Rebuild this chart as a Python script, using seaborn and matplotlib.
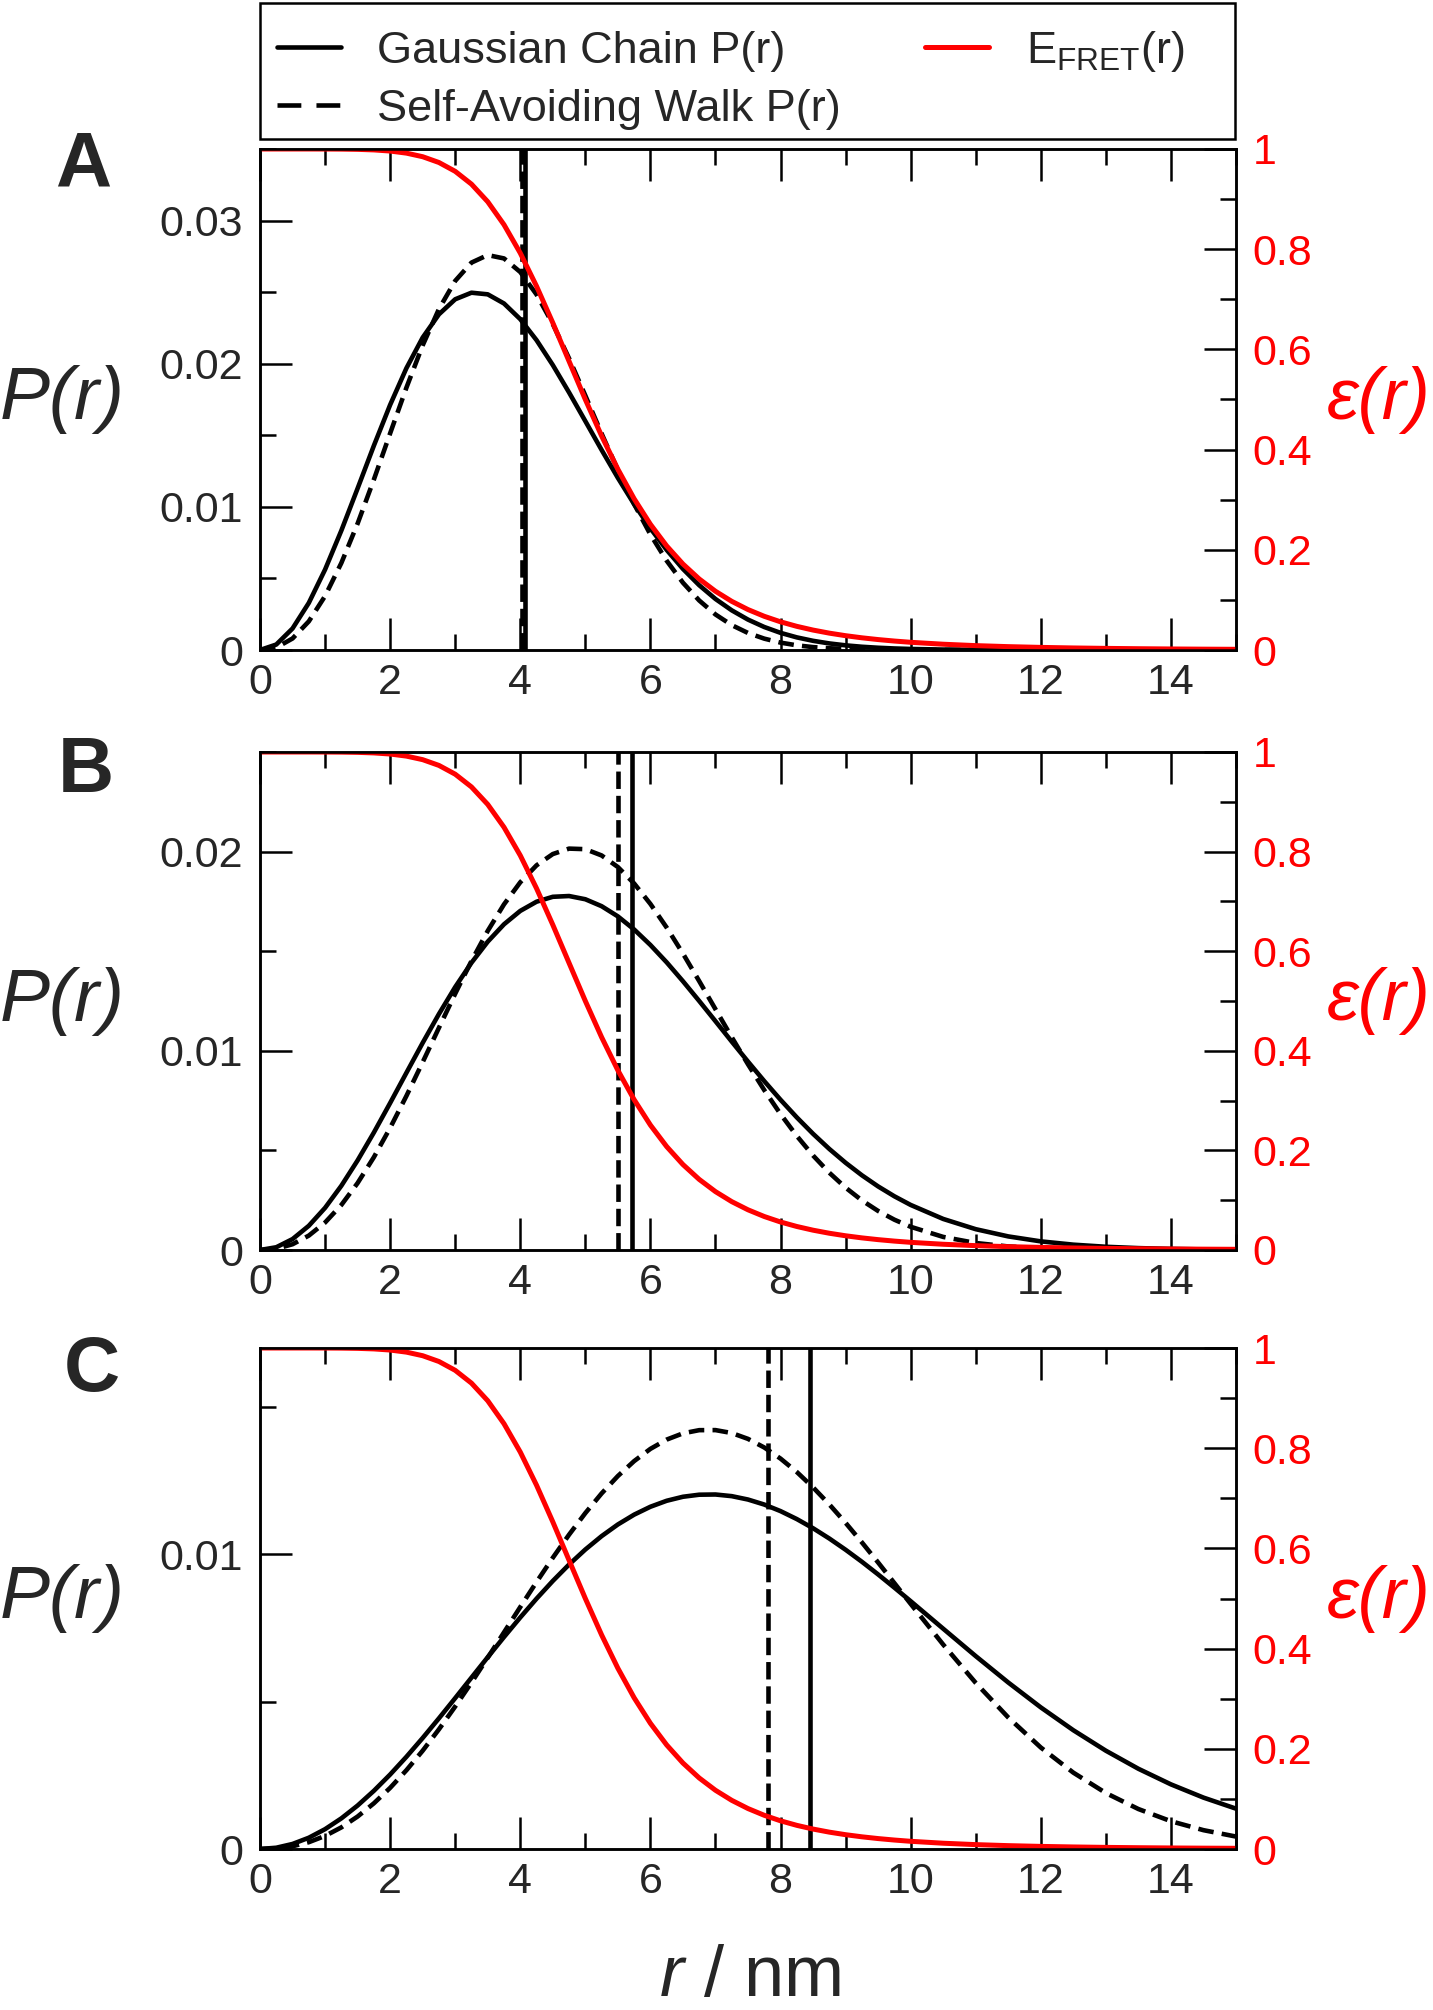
import matplotlib
matplotlib.use("Agg")
import matplotlib.pyplot as plt
import seaborn as sns
from matplotlib.ticker import MultipleLocator, FuncFormatter
from matplotlib.lines import Line2D
from matplotlib.patches import Rectangle

# ---------------- data ----------------
r_nm = [0.0, 0.25, 0.5, 0.75, 1.0, 1.25, 1.5, 1.75, 2.0, 2.25, 2.5, 2.75, 3.0, 3.25,
        3.5, 3.75, 4.0, 4.25, 4.5, 4.75, 5.0, 5.25, 5.5, 5.75, 6.0, 6.25, 6.5, 6.75,
        7.0, 7.25, 7.5, 7.75, 8.0, 8.25, 8.5, 8.75, 9.0, 9.25, 9.5, 9.75, 10.0,
        10.5, 11.0, 11.5, 12.0, 12.5, 13.0, 13.5, 14.0, 14.5, 15.0]

efret = [1.0, 1.0, 1.0, 1.0, 0.99994, 0.99976, 0.99927, 0.99817, 0.99592, 0.99176,
         0.98462, 0.97306, 0.95542, 0.92987, 0.89474, 0.84891, 0.79231, 0.72614,
         0.65298, 0.57634, 0.5, 0.42733, 0.36081, 0.30184, 0.25088, 0.20770,
         0.17162, 0.14178, 0.11724, 0.09714, 0.08071, 0.06726, 0.05625, 0.04722,
         0.03978, 0.03364, 0.02856, 0.02434, 0.02081, 0.01787, 0.01538,
         0.01153, 0.00874, 0.00671, 0.00521, 0.00408, 0.00323, 0.00257, 0.00207,
         0.00168, 0.00137]

pA_gauss = [0, 0.000382, 0.001503, 0.003288, 0.005618, 0.008342, 0.011288, 0.014275,
            0.017126, 0.019687, 0.021826, 0.023451, 0.024502, 0.024961, 0.024847,
            0.024207, 0.023112, 0.021646, 0.019907, 0.017989, 0.015988, 0.013977,
            0.012025, 0.010188, 0.008500, 0.006991, 0.005665, 0.004526, 0.003565,
            0.002771, 0.002123, 0.001606, 0.001198, 0.000882, 0.000641, 0.000459,
            0.000325, 0.000227, 0.000157, 0.000107, 0.000072,
            0.000031, 0.000013, 0.000005, 0.000002, 0.000001, 0.0, 0.0, 0.0, 0.0, 0.0]

pA_saw = [0, 0.000167, 0.000804, 0.001999, 0.003768, 0.006076, 0.008832, 0.011907,
          0.015134, 0.018325, 0.021282, 0.023821, 0.025787, 0.027064, 0.027590,
          0.027355, 0.026406, 0.024835, 0.022775, 0.020371, 0.017773, 0.015122,
          0.012571, 0.010194, 0.008070, 0.006236, 0.004702, 0.003460, 0.002483,
          0.001739, 0.001189, 0.000793, 0.000516, 0.000326, 0.000202, 0.000122,
          0.000071, 0.000041, 0.000023, 0.000012, 0.000006,
          0.000001, 0.0, 0.0, 0.0, 0.0, 0.0, 0.0, 0.0, 0.0, 0.0]

pB_gauss = [0, 0.000138, 0.000548, 0.001215, 0.002116, 0.003223, 0.004497, 0.005897,
            0.007378, 0.008894, 0.010398, 0.011847, 0.013200, 0.014421, 0.015478,
            0.016351, 0.017023, 0.017484, 0.017731, 0.017770, 0.017608, 0.017260,
            0.016748, 0.016090, 0.015312, 0.014441, 0.013493, 0.012501, 0.011486,
            0.010463, 0.009456, 0.008477, 0.007541, 0.006657, 0.005832, 0.005072,
            0.004379, 0.003752, 0.003191, 0.002696, 0.002262,
            0.001559, 0.001045, 0.000682, 0.000433, 0.000268, 0.000162, 0.000095,
            0.000054, 0.000030, 0.000017]

pB_saw = [0, 0.000060, 0.000289, 0.000723, 0.001379, 0.002260, 0.003360, 0.004658,
          0.006130, 0.007733, 0.009428, 0.011156, 0.012869, 0.014508, 0.016019,
          0.017351, 0.018460, 0.019311, 0.019877, 0.020150, 0.020122, 0.019807,
          0.019225, 0.018400, 0.017373, 0.016187, 0.014883, 0.013498, 0.012088,
          0.010683, 0.009322, 0.008026, 0.006823, 0.005726, 0.004743, 0.003878,
          0.003130, 0.002491, 0.001959, 0.001521, 0.001165,
          0.000657, 0.000351, 0.000178, 0.000085, 0.000039, 0.000017, 0.000007,
          0.000003, 0.000001, 0.0]

pC_gauss = [0, 0.000043, 0.000171, 0.000382, 0.000673, 0.001039, 0.001475, 0.001974,
            0.002527, 0.003128, 0.003767, 0.004434, 0.005120, 0.005815, 0.006509,
            0.007193, 0.007857, 0.008494, 0.009095, 0.009653, 0.010162, 0.010616,
            0.011012, 0.011345, 0.011613, 0.011816, 0.011952, 0.012022, 0.012029,
            0.011973, 0.011858, 0.011688, 0.011465, 0.011195, 0.010884, 0.010535,
            0.010154, 0.009747, 0.009316, 0.008868, 0.008409,
            0.007475, 0.006545, 0.005649, 0.004805, 0.004030, 0.003335, 0.002722,
            0.002193, 0.001744, 0.001369]

pC_saw = [0, 0.000019, 0.000092, 0.000231, 0.000444, 0.000733, 0.001102, 0.001550,
          0.002074, 0.002672, 0.003335, 0.004061, 0.004835, 0.005648, 0.006492,
          0.007351, 0.008210, 0.009059, 0.009882, 0.010666, 0.011398, 0.012065,
          0.012656, 0.013162, 0.013577, 0.013892, 0.014104, 0.014212, 0.014214,
          0.014115, 0.013916, 0.013624, 0.013247, 0.012793, 0.012270, 0.011692,
          0.011067, 0.010405, 0.009721, 0.009021, 0.008318,
          0.006937, 0.005636, 0.004463, 0.003444, 0.002591, 0.001899, 0.001356,
          0.000943, 0.000639, 0.000422]

rms_gauss = [4.07, 5.72, 8.45]     # solid vertical lines
rms_saw = [4.02, 5.50, 7.80]       # dashed vertical lines
panel_letters = ["A", "B", "C"]
p_ymax = [0.035, 0.025, 0.017]
legend_labels = ["Gaussian Chain P(r)", "Self-Avoiding Walk P(r)",
                 r"E$_{\mathrm{FRET}}$(r)"]

gauss_sets = [pA_gauss, pB_gauss, pC_gauss]
saw_sets = [pA_saw, pB_saw, pC_saw]

# ---------------- style ----------------
sns.set_style("ticks")
plt.rcParams["font.family"] = ["Liberation Sans", "DejaVu Sans"]
plt.rcParams["mathtext.fontset"] = "custom"
plt.rcParams["mathtext.rm"] = "Liberation Sans"
plt.rcParams["mathtext.it"] = "Liberation Sans:italic"
plt.rcParams["mathtext.bf"] = "Liberation Sans:bold"

W, H = 1433, 2010
fig = plt.figure(figsize=(W / 100, H / 100), dpi=100)

AX_L, AX_R = 260, 1236
panel_tb = [(149, 650), (752, 1250), (1348, 1849)]
letter_pos = [(83, 166), (86, 771), (92, 1371)]

LW = 3.3
LW_RED = 3.6
DASH = (3.4, 1.8)
VDASH = (3.8, 1.5)
TICK_FS = 31
SPINE_W = 1.8
TICK_W = 1.8

fmt = FuncFormatter(lambda v, p: "0" if abs(v) < 1e-12 else f"{v:g}")

for i in range(3):
    top, bot = panel_tb[i]
    ax = fig.add_axes([AX_L / W, 1 - bot / H, (AX_R - AX_L) / W, (bot - top) / H])
    ax2 = ax.twinx()

    sns.lineplot(x=r_nm, y=gauss_sets[i], ax=ax, color="black", linewidth=LW)
    sns.lineplot(x=r_nm, y=saw_sets[i], ax=ax, color="black", linewidth=LW)
    ax.lines[-1].set_dashes(DASH)
    ax.axvline(rms_gauss[i], color="black", linewidth=LW)
    vl = ax.axvline(rms_saw[i], color="black", linewidth=LW)
    vl.set_dashes(VDASH)

    sns.lineplot(x=r_nm, y=efret, ax=ax2, color="#ff0000", linewidth=LW_RED)

    ax.set_xlim(0, 15)
    ax.set_ylim(0, p_ymax[i])
    ax2.set_ylim(0, 1)
    ax.set_xlabel("")
    ax.set_ylabel("")
    ax2.set_ylabel("")

    ax.xaxis.set_major_locator(MultipleLocator(2))
    ax.xaxis.set_minor_locator(MultipleLocator(1))
    ax.yaxis.set_major_locator(MultipleLocator(0.01))
    ax.yaxis.set_minor_locator(MultipleLocator(0.005))
    ax2.yaxis.set_major_locator(MultipleLocator(0.2))
    ax2.yaxis.set_minor_locator(MultipleLocator(0.1))
    ax.xaxis.set_major_formatter(fmt)
    ax.yaxis.set_major_formatter(fmt)
    ax2.yaxis.set_major_formatter(fmt)

    ax.tick_params(which="both", direction="in", top=True, bottom=True,
                   left=True, right=False, width=TICK_W, color="black")
    ax.tick_params(which="major", length=23)
    ax.tick_params(which="minor", length=11.5)
    ax.tick_params(axis="x", which="major", labelsize=TICK_FS, pad=9)
    ax.tick_params(axis="y", which="major", labelsize=TICK_FS, pad=12)

    ax2.tick_params(which="both", direction="in", right=True, left=False,
                    width=TICK_W, color="black")
    ax2.tick_params(which="major", length=23, labelsize=TICK_FS, pad=12,
                    labelcolor="#ff0000")
    ax2.tick_params(which="minor", length=11.5)

    for a in (ax, ax2):
        for s in a.spines.values():
            s.set_linewidth(SPINE_W)
            s.set_color("black")
            s.set_visible(True)

    cy = (top + bot) / 2
    fig.text(62 / W, 1 - cy / H, "P(r)", fontsize=54, style="italic",
             ha="center", va="center")
    fig.text(1379 / W, 1 - cy / H, "ε(r)", fontsize=52, style="italic",
             color="#ff0000", ha="center", va="center")
    lx, ly = letter_pos[i]
    fig.text(lx / W, 1 - ly / H, panel_letters[i], fontsize=56, fontweight="bold",
             ha="center", va="center")

# x axis label
fig.text(750 / W, 1 - 1977 / H, r"$r$ / nm", fontsize=52,
         ha="center", va="center")

# legend
handles = [
    Line2D([], [], color="black", linewidth=LW),
    Line2D([], [], color="black", linewidth=LW, dashes=(5.2, 3.3)),
    Line2D([], [], color="#ff0000", linewidth=LW_RED),
]
fig.legend(handles, legend_labels, ncol=2, loc="upper left",
           bbox_to_anchor=(277 / W, 1 - 29 / H), frameon=False, borderpad=0,
           borderaxespad=0, handlelength=1.42, handletextpad=0.8,
           columnspacing=1.87, labelspacing=0.37, fontsize=32.5)
fig.add_artist(Rectangle((260 / W, 1 - 139 / H), (1235 - 260) / W, (139 - 3) / H,
                         transform=fig.transFigure, fill=False, linewidth=SPINE_W,
                         edgecolor="black"))

fig.savefig("out.png", dpi=100)
